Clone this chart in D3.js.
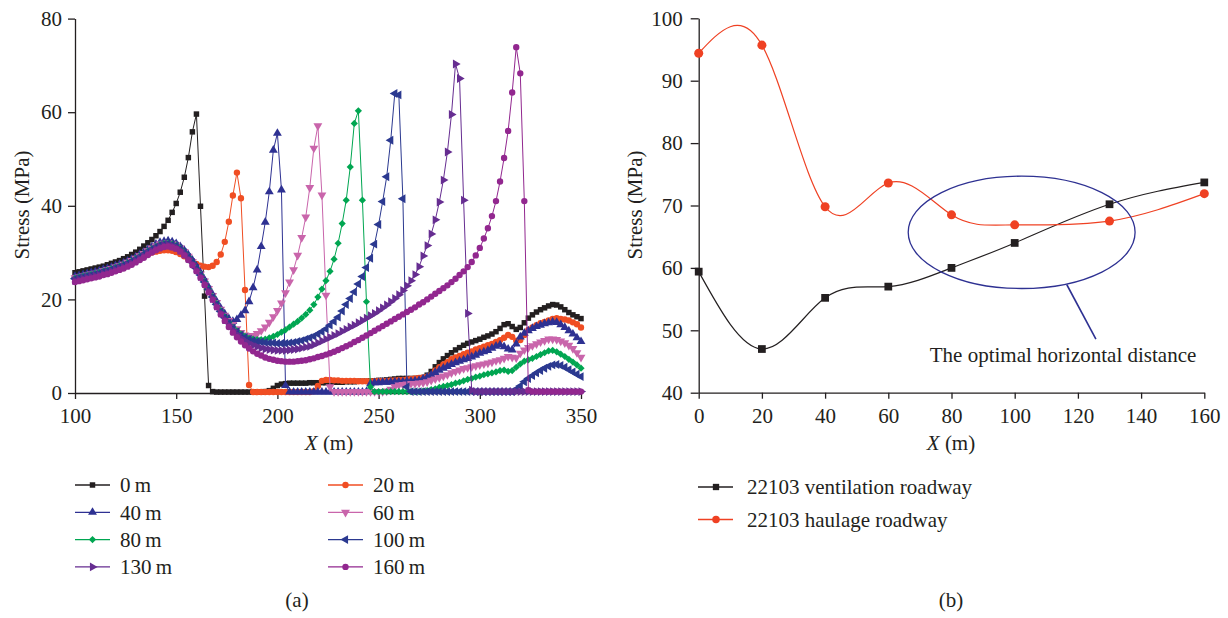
<!DOCTYPE html>
<html>
<head>
<meta charset="utf-8">
<script src="https://cdn.jsdelivr.net/npm/d3@7"></script>
<style>
body{margin:0;background:#fff;}
svg text{font-family:"Liberation Serif","Times New Roman",serif;fill:#231f20;}
</style>
</head>
<body>
<svg id="fig" width="1228" height="618"></svg>
<script>
// ---- (a) stress along X for each face distance, sampled every 2 m from 100 to 350 ----
const xGrid = d3.range(100, 351, 2);

const stress0m = [
 25.7,25.9,26.1,26.3,26.5,26.7,26.9,27.1,27.4,27.7,
 28.0,28.3,28.7,29.1,29.6,30.1,30.7,31.4,32.1,32.8,
 33.6,34.5,35.6,36.9,38.6,40.5,42.9,46.1,50.3,55.8,
 59.6,39.9,20.7,1.6,0.3,0.2,0.2,0.2,0.2,0.2,
 0.2,0.2,0.2,0.2,0.2,0.2,0.2,0.3,0.5,1.0,
 1.6,1.9,2.0,2.1,2.1,2.1,2.1,2.1,2.2,2.2,
 2.2,2.2,2.2,2.3,2.3,2.3,2.3,2.4,2.4,2.4,
 2.5,2.5,2.5,2.6,2.6,2.7,2.7,2.8,2.9,3.0,
 3.1,3.1,3.1,3.1,3.1,3.2,3.3,3.8,4.6,5.6,
 6.5,7.3,8.0,8.6,9.2,9.7,10.2,10.6,10.9,11.2,
 11.5,11.9,12.2,12.6,13.1,13.8,14.6,14.8,14.2,13.6,
 14.0,15.0,16.0,16.7,17.3,17.8,18.2,18.6,18.9,18.8,
 18.4,17.8,17.2,16.7,16.3,15.9];
const stress20m = [
 24.6,24.8,25.0,25.2,25.4,25.6,25.8,26.0,26.3,26.5,
 26.8,27.1,27.4,27.7,28.1,28.5,28.9,29.3,29.7,30.0,
 30.2,30.4,30.5,30.5,30.4,30.1,29.7,29.2,28.6,28.0,
 27.6,27.2,27.0,26.9,27.2,28.0,29.6,32.3,36.6,42.2,
 47.1,41.6,22.0,1.7,0.2,0.2,0.2,0.2,0.2,0.2,
 0.2,0.2,0.2,0.2,0.2,0.2,0.2,0.2,0.2,0.4,
 1.5,2.6,2.8,2.8,2.7,2.7,2.6,2.6,2.6,2.6,
 2.5,2.5,2.5,2.5,2.5,2.6,2.6,2.6,2.7,2.7,
 2.8,2.8,2.9,3.0,3.1,3.2,3.3,3.5,3.8,4.8,
 5.5,6.1,6.6,7.2,7.6,7.9,8.3,8.6,8.9,9.3,
 9.6,9.9,10.2,10.5,10.9,11.3,11.8,12.4,12.0,11.2,
 11.3,12.4,13.5,14.0,14.5,14.9,15.2,15.5,15.8,16.0,
 15.8,15.7,15.5,15.1,14.7,14.0];
const stress40m = [
 24.9,25.1,25.3,25.5,25.7,25.9,26.1,26.4,26.6,26.9,
 27.2,27.5,27.8,28.2,28.6,29.1,29.6,30.1,30.7,31.3,
 31.8,32.2,32.4,32.5,32.3,31.9,31.3,30.5,29.5,28.4,
 27.1,25.7,24.2,22.6,21.0,19.5,18.1,16.9,15.9,15.3,
 15.7,16.6,17.6,19.5,22.5,26.3,31.3,36.5,43.0,51.9,
 55.5,43.4,1.6,0.2,0.2,0.2,0.2,0.2,0.2,0.2,
 0.2,0.2,0.2,0.2,0.2,0.2,0.2,0.2,0.2,0.2,
 0.2,0.2,0.3,2.0,2.2,2.2,2.3,2.3,2.3,2.4,
 2.4,2.4,2.5,2.5,2.6,2.7,3.0,3.4,3.9,4.4,
 4.9,5.3,5.7,6.1,6.5,6.8,7.1,7.4,7.7,8.1,
 8.5,8.8,9.1,9.6,10.0,10.3,9.9,9.4,9.2,10.5,
 12.0,12.8,13.3,13.8,14.2,14.5,14.8,15.0,15.2,15.1,
 14.6,14.0,13.3,12.6,11.8,11.0];
const stress60m = [
 24.6,24.8,25.0,25.2,25.4,25.6,25.8,26.1,26.3,26.6,
 26.9,27.2,27.5,27.9,28.3,28.8,29.3,29.8,30.4,30.9,
 31.4,31.8,32.0,32.1,31.9,31.6,31.0,30.2,29.2,28.1,
 26.8,25.4,23.9,22.3,20.8,19.3,17.9,16.6,15.5,14.6,
 13.7,12.9,12.4,12.2,12.3,12.7,13.3,14.1,15.1,16.3,
 17.6,19.2,21.4,23.7,26.3,29.4,33.2,37.6,43.9,52.3,
 57.1,42.3,20.9,1.3,0.3,0.3,0.3,0.3,0.3,0.3,
 0.3,0.3,0.3,0.3,0.3,0.3,0.3,0.4,0.8,1.3,
 1.7,1.8,1.9,2.0,2.0,2.1,2.2,2.4,2.7,3.0,
 3.3,3.6,3.9,4.3,4.6,4.9,5.2,5.4,5.6,5.8,
 6.0,6.2,6.4,6.6,6.9,7.1,7.4,7.8,7.6,7.5,
 8.5,9.2,9.7,10.1,10.5,10.9,11.2,11.5,11.5,11.4,
 11.1,10.7,10.2,9.5,8.6,7.6];
const stress80m = [
 24.5,24.7,24.9,25.1,25.3,25.5,25.7,26.0,26.2,26.5,
 26.8,27.1,27.4,27.8,28.2,28.7,29.2,29.7,30.3,30.8,
 31.3,31.7,31.9,32.0,31.8,31.5,30.9,30.1,29.1,28.0,
 26.7,25.3,23.8,22.2,20.6,19.1,17.6,16.3,15.1,14.1,
 13.3,12.6,12.1,11.7,11.5,11.4,11.4,11.5,11.8,12.1,
 12.5,13.0,13.5,14.1,14.7,15.3,16.0,16.8,17.7,18.9,
 20.5,22.2,24.0,26.0,28.6,32.0,36.2,41.2,48.3,57.6,
 60.3,41.2,19.5,1.3,0.3,0.3,0.3,0.3,0.3,0.3,
 0.3,0.3,0.3,0.3,0.3,0.3,0.4,0.5,0.7,0.9,
 1.2,1.4,1.6,1.8,2.1,2.3,2.6,2.9,3.1,3.4,
 3.6,3.9,4.1,4.3,4.5,4.8,4.9,4.6,4.8,5.5,
 6.2,6.8,7.1,7.4,7.8,8.2,8.6,9.0,9.1,8.8,
 8.3,7.8,7.2,6.6,6.0,5.3];
const stress100m = [
 24.4,24.6,24.8,25.0,25.2,25.4,25.6,25.9,26.1,26.4,
 26.7,27.0,27.3,27.7,28.1,28.6,29.1,29.6,30.2,30.7,
 31.2,31.6,31.8,31.9,31.7,31.4,30.8,30.0,29.0,27.9,
 26.6,25.2,23.7,22.1,20.5,18.9,17.4,16.1,14.9,13.9,
 13.1,12.4,11.9,11.5,11.2,11.0,10.9,10.8,10.7,10.7,
 10.6,10.6,10.6,10.7,10.8,11.0,11.2,11.5,11.8,12.1,
 12.6,13.1,13.7,14.5,15.3,16.2,17.5,18.9,20.2,21.6,
 23.3,24.9,26.8,28.8,31.8,36.0,40.9,46.2,54.0,64.0,
 63.7,41.5,1.3,0.3,0.3,0.3,0.3,0.3,0.3,0.3,
 0.3,0.3,0.3,0.3,0.3,0.3,0.3,0.3,0.3,0.3,
 0.3,0.3,0.3,0.3,0.3,0.3,0.3,0.3,0.3,0.8,
 1.5,2.4,3.1,3.7,4.3,4.8,5.3,5.7,6.0,6.1,
 5.9,5.5,5.0,4.5,4.0,3.5];
const stress130m = [
 24.0,24.2,24.4,24.6,24.8,25.0,25.2,25.5,25.7,26.0,
 26.3,26.6,26.9,27.3,27.7,28.2,28.7,29.2,29.8,30.3,
 30.8,31.2,31.5,31.6,31.4,31.1,30.5,29.7,28.7,27.6,
 26.3,24.9,23.4,21.8,20.2,18.6,17.1,15.7,14.5,13.4,
 12.5,11.7,11.1,10.6,10.2,9.9,9.6,9.4,9.3,9.2,
 9.1,9.1,9.1,9.2,9.3,9.4,9.6,9.8,10.0,10.3,
 10.7,11.1,11.5,11.9,12.3,12.7,13.2,13.6,14.1,14.5,
 15.0,15.5,16.0,16.5,17.0,17.6,18.2,18.8,19.5,20.2,
 21.0,21.9,22.9,24.0,25.3,27.0,29.3,31.5,34.0,37.0,
 40.8,45.5,51.5,59.5,70.3,67.2,41.2,17.0,0.6,0.3,
 0.3,0.3,0.3,0.3,0.3,0.3,0.3,0.3,0.3,0.3,
 0.3,0.3,0.3,0.3,0.3,0.3,0.3,0.3,0.3,0.3,
 0.3,0.3,0.3,0.3,0.3,0.3];
const stress160m = [
 23.7,23.9,24.1,24.3,24.5,24.7,24.9,25.2,25.4,25.7,
 26.0,26.3,26.6,27.0,27.4,27.9,28.4,28.9,29.5,30.0,
 30.5,30.9,31.2,31.3,31.1,30.8,30.2,29.4,28.4,27.3,
 26.0,24.6,23.1,21.5,19.9,18.3,16.8,15.4,14.1,12.9,
 11.9,11.0,10.2,9.5,8.9,8.4,8.0,7.6,7.3,7.1,
 6.9,6.8,6.7,6.7,6.7,6.8,6.9,7.0,7.2,7.4,
 7.7,7.9,8.2,8.5,8.8,9.2,9.6,10.0,10.4,10.9,
 11.3,11.8,12.3,12.8,13.3,13.8,14.3,14.8,15.3,15.8,
 16.3,16.8,17.3,17.8,18.3,18.9,19.4,20.0,20.6,21.2,
 21.8,22.4,23.0,23.7,24.4,25.2,26.0,26.9,28.0,29.4,
 31.0,33.0,35.2,37.8,41.0,45.2,50.2,56.0,64.2,73.9,
 68.3,41.0,0.6,0.3,0.3,0.3,0.3,0.3,0.3,0.3,
 0.3,0.3,0.3,0.3,0.3,0.3];

const seriesLabels = ['0\u2009m','20\u2009m','40\u2009m','60\u2009m','80\u2009m','100\u2009m','130\u2009m','160\u2009m'];
const seriesValues = [stress0m,stress20m,stress40m,stress60m,stress80m,stress100m,stress130m,stress160m];
const xTicksA = [100,150,200,250,300,350];
const yTicksA = [0,20,40,60,80];

// ---- (b) peak stress vs horizontal distance ----
const distances = [0,20,40,60,80,100,130,160];
const ventilation = [59.4,47.0,55.2,57.0,60.0,64.0,70.2,73.7];
const haulage = [94.4,95.7,69.8,73.6,68.5,66.9,67.5,71.9];
const roadwayLabels = ['22103 ventilation roadway','22103 haulage roadway'];
const xTicksB = [0,20,40,60,80,100,120,140,160];
const yTicksB = [40,50,60,70,80,90,100];
// optimal zone: centre (m, MPa) and half widths
const zoneCentre = [102.2,65.7];
const zoneHalf = [35.9,9.0];

// styles
const seriesColors = ['#231f20','#f04e23','#2e3192','#c965ab','#00a651','#2b3990','#662d91','#92278f'];
const seriesShapes = ['square','circle','up','down','diamond','left','right','circle'];
const ink = '#231f20';
const fontSize = '21px';

const svg = d3.select('#fig');

function symbolPath(shape, size){
    const type = shape==='circle' ? d3.symbolCircle
               : (shape==='square'||shape==='diamond') ? d3.symbolSquare
               : d3.symbolTriangle;
    return d3.symbol().type(type).size(size)();
}
function symbolRotate(shape){
    return {down:180,left:-90,right:90,diamond:45}[shape] || 0;
}
function symbolSize(shape){
    if(shape==='circle') return 32;
    if(shape==='square') return 30;
    if(shape==='diamond') return 26;
    return 34;
}

function styleAxis(g){
    g.attr('font-family',null).attr('font-size',null);
    g.selectAll('path,line').attr('stroke',ink).attr('stroke-width',1.3);
    g.selectAll('text').style('font-size',fontSize).attr('fill',ink);
}

// ===== chart (a) =====
const xA = d3.scaleLinear().domain([100,350]).range([75,581]);
const yA = d3.scaleLinear().domain([0,80]).range([393,18.6]);

svg.append('g').attr('transform',`translate(0,${yA(0)})`)
   .call(d3.axisBottom(xA).tickValues(xTicksA).tickSizeInner(6).tickSizeOuter(0).tickPadding(9))
   .call(styleAxis);
svg.append('g').attr('transform',`translate(${xA(100)},0)`)
   .call(d3.axisLeft(yA).tickValues(yTicksA).tickSizeInner(7).tickSizeOuter(0).tickPadding(6))
   .call(styleAxis);

const lineA = d3.line().x((d,i)=>xA(xGrid[i])).y(d=>yA(d));
seriesValues.forEach((vals,k)=>{
    const g = svg.append('g');
    g.append('path').attr('d',lineA(vals)).attr('fill','none')
     .attr('stroke',seriesColors[k]).attr('stroke-width',1);
    g.selectAll('path.mk').data(vals).enter().append('path').attr('class','mk')
     .attr('d',symbolPath(seriesShapes[k],symbolSize(seriesShapes[k])))
     .attr('transform',(d,i)=>`translate(${xA(xGrid[i])},${yA(d)}) rotate(${symbolRotate(seriesShapes[k])})`)
     .attr('fill',seriesColors[k]);
});

svg.append('text').attr('transform','translate(22,205) rotate(-90)')
   .attr('text-anchor','middle').attr('dy','0.35em').style('font-size',fontSize).text('Stress (MPa)');
const xtA = svg.append('text').attr('x',329).attr('y',450).attr('text-anchor','middle').style('font-size',fontSize);
xtA.append('tspan').style('font-style','italic').text('X');
xtA.append('tspan').text(' (m)');

// legend (a)
const legA = svg.append('g');
seriesLabels.forEach((lab,k)=>{
    const col = k%2, row = Math.floor(k/2);
    const lx = col===0 ? 75 : 328, ly = 485 + row*27.3;
    legA.append('line').attr('x1',lx).attr('x2',lx+35).attr('y1',ly).attr('y2',ly)
        .attr('stroke',seriesColors[k]).attr('stroke-width',1.3);
    legA.append('path').attr('d',symbolPath(seriesShapes[k],symbolSize(seriesShapes[k])))
        .attr('transform',`translate(${lx+17.5},${ly}) rotate(${symbolRotate(seriesShapes[k])})`)
        .attr('fill',seriesColors[k]);
    legA.append('text').attr('x',lx+45).attr('y',ly).attr('dy','0.35em')
        .style('font-size',fontSize).text(lab);
});
svg.append('text').attr('x',297).attr('y',607).attr('text-anchor','middle').style('font-size',fontSize).text('(a)');

// ===== chart (b) =====
const xB = d3.scaleLinear().domain([0,160]).range([698.7,1204.3]);
const yB = d3.scaleLinear().domain([40,100]).range([392.7,18.3]);

svg.append('g').attr('transform',`translate(0,${yB(40)})`)
   .call(d3.axisBottom(xB).tickValues(xTicksB).tickSizeInner(6).tickSizeOuter(0).tickPadding(9))
   .call(styleAxis);
svg.append('g').attr('transform',`translate(${xB(0)},0)`)
   .call(d3.axisLeft(yB).tickValues(yTicksB).tickSizeInner(8).tickSizeOuter(0).tickPadding(8))
   .call(styleAxis);

const lineB = d3.line().curve(d3.curveNatural).x((d,i)=>xB(distances[i])).y(d=>yB(d));
const roadColors = ['#231f20','#ef4123'];
const roadShapes = ['square','circle'];
[ventilation,haulage].forEach((vals,k)=>{
    svg.append('path').attr('d',lineB(vals)).attr('fill','none')
       .attr('stroke',roadColors[k]).attr('stroke-width',1.2);
    svg.append('g').selectAll('path').data(vals).enter().append('path')
       .attr('d',symbolPath(roadShapes[k],k===0?60:64))
       .attr('transform',(d,i)=>`translate(${xB(distances[i])},${yB(d)})`)
       .attr('fill',roadColors[k]);
});

// optimal zone annotation
const zcx = xB(zoneCentre[0]), zcy = yB(zoneCentre[1]);
svg.append('ellipse').attr('cx',zcx).attr('cy',zcy)
   .attr('rx',xB(zoneCentre[0]+zoneHalf[0])-zcx).attr('ry',yB(zoneCentre[1]-zoneHalf[1])-zcy)
   .attr('fill','none').attr('stroke','#2e3192').attr('stroke-width',1.3);
svg.append('line').attr('x1',xB(116.5)).attr('y1',yB(57.3)).attr('x2',xB(125.7)).attr('y2',yB(48.6))
   .attr('stroke','#2e3192').attr('stroke-width',1.6);
svg.append('text').attr('x',xB(115.3)).attr('y',yB(45.0)).attr('text-anchor','middle')
   .style('font-size',fontSize).text('The optimal horizontal distance');

svg.append('text').attr('transform','translate(635,205) rotate(-90)')
   .attr('text-anchor','middle').attr('dy','0.35em').style('font-size',fontSize).text('Stress (MPa)');
const xtB = svg.append('text').attr('x',951).attr('y',450).attr('text-anchor','middle').style('font-size',fontSize);
xtB.append('tspan').style('font-style','italic').text('X');
xtB.append('tspan').text(' (m)');

// legend (b)
roadwayLabels.forEach((lab,k)=>{
    const ly = 487 + k*32.5;
    svg.append('line').attr('x1',698).attr('x2',733).attr('y1',ly).attr('y2',ly)
       .attr('stroke',roadColors[k]).attr('stroke-width',1.3);
    svg.append('path').attr('d',symbolPath(roadShapes[k],k===0?40:44))
       .attr('transform',`translate(716,${ly})`).attr('fill',roadColors[k]);
    svg.append('text').attr('x',747).attr('y',ly).attr('dy','0.35em')
       .style('font-size',fontSize).text(lab);
});
svg.append('text').attr('x',951).attr('y',607).attr('text-anchor','middle').style('font-size',fontSize).text('(b)');
</script>
</body>
</html>
